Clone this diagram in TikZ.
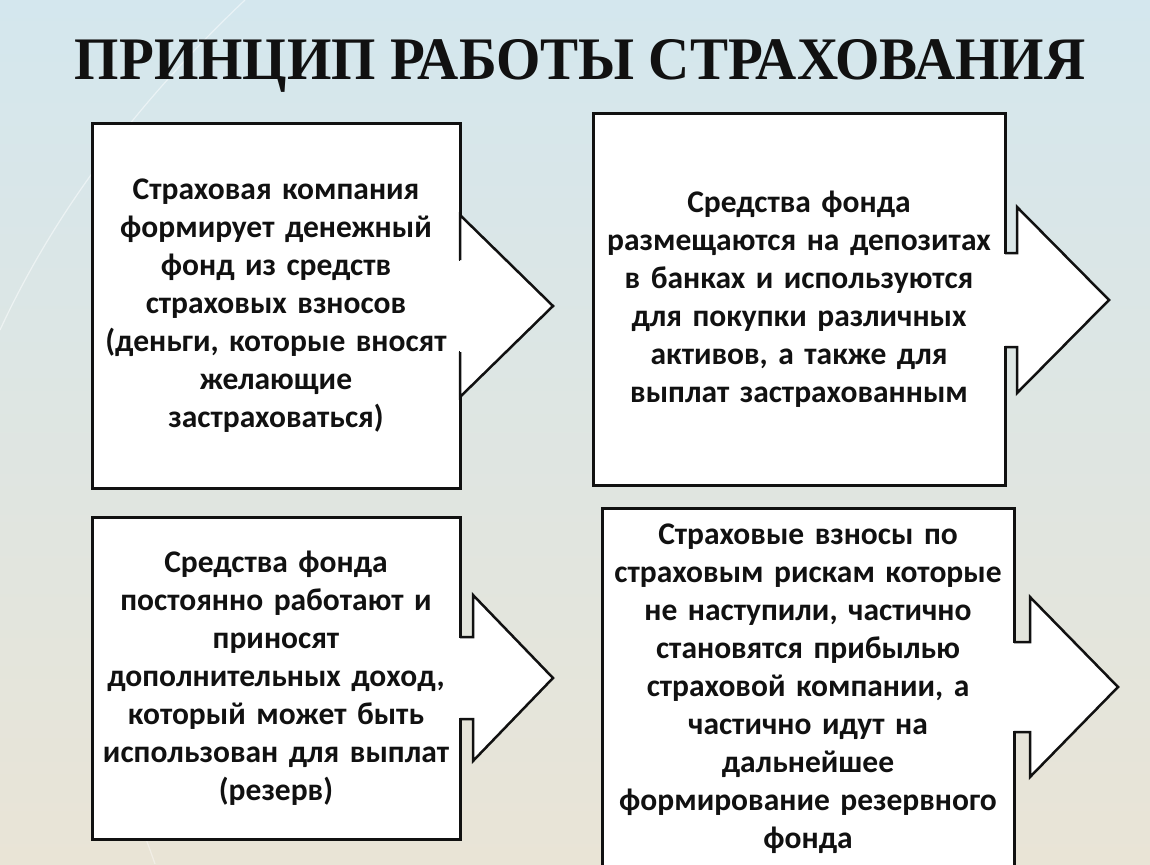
\documentclass[tikz,border=0pt]{standalone}
\usepackage{fontspec}
\setmainfont{Carlito}
\newfontfamily\titlefont{Liberation Serif}
\usetikzlibrary{calc}

\definecolor{bgtop}{RGB}{212,231,238}
\definecolor{bgmid}{RGB}{241,244,238}
\definecolor{bgbot}{RGB}{233,228,214}
\definecolor{ink}{RGB}{17,17,17}

\tikzset{
  card/.style={draw=ink, line width=3pt, fill=white, inner sep=0pt, align=center,
    text=ink, font=\bfseries\fontsize{31.5}{38}\selectfont},
  pointer/.style={draw=ink, line width=2.5pt, fill=white, line join=miter},
}

\begin{document}
\begin{tikzpicture}[x=1pt,y=-1pt]
    \clip (0,0) rectangle (1150,864);
    \shade[top color=bgtop, middle color=bgmid, bottom color=bgbot] (0,0) rectangle (1150,864);
    % faint swooshes
    \draw[white, line width=1.2pt, opacity=0.5] (245,0) .. controls (150,90) and (60,200) .. (0,330);
    \draw[white, line width=1.2pt, opacity=0.4] (120,780) .. controls (135,810) and (145,835) .. (155,864);

    \node[ink, inner sep=0pt, anchor=base] (title) at (580,80) {\resizebox{1010pt}{40pt}{\titlefont\bfseries ПРИНЦИП РАБОТЫ СТРАХОВАНИЯ}};

    \node[card, minimum width=368, minimum height=364, text width=366] (fund) at (276,306)
        {Страховая компания\\ формирует денежный\\ фонд из средств\\ страховых взносов\\ (деньги, которые вносят\\ желающие\\ застраховаться)};
    \node[card, minimum width=412, minimum height=371, text width=404] (deposit) at (799,299.5)
        {Средства фонда\\ размещаются на депозитах\\ в банках и используются\\ для покупки различных\\ активов, а также для\\ выплат застрахованным};
    \node[card, minimum width=368, minimum height=322, text width=366] (reserve) at (276,678)
        {Средства фонда\\ постоянно работают и\\ приносят\\ дополнительных доход,\\ который может быть\\ использован для выплат\\ (резерв)};
    \node[card, minimum width=412, minimum height=362, text width=404] (profit) at (808,689)
        {Страховые взносы по\\ страховым рискам которые\\ не наступили, частично\\ становятся прибылью\\ страховой компании, а\\ частично идут на\\ дальнейшее\\ формирование резервного\\ фонда};

    % arrow heads
    \fill[white] (457,261) rectangle (463,351);
    \filldraw[pointer] (460,260) -- (460,215) -- (553,306) -- (460,397) -- (460,352);

    \fill[white] (1002,254) rectangle (1008,346);
    \filldraw[pointer] (1005,253) -- (1017,253) -- (1017,207) -- (1109,300) -- (1017,393) -- (1017,347) -- (1005,347);

    \fill[white] (457,638) rectangle (463,718);
    \filldraw[pointer] (460,637) -- (473,637) -- (473,595) -- (553,678) -- (473,761) -- (473,719) -- (460,719);

    \fill[white] (1011,643) rectangle (1017,731);
    \filldraw[pointer] (1014,642) -- (1030,642) -- (1030,597) -- (1118,687) -- (1030,777) -- (1030,732) -- (1014,732);
\end{tikzpicture}
\end{document}
